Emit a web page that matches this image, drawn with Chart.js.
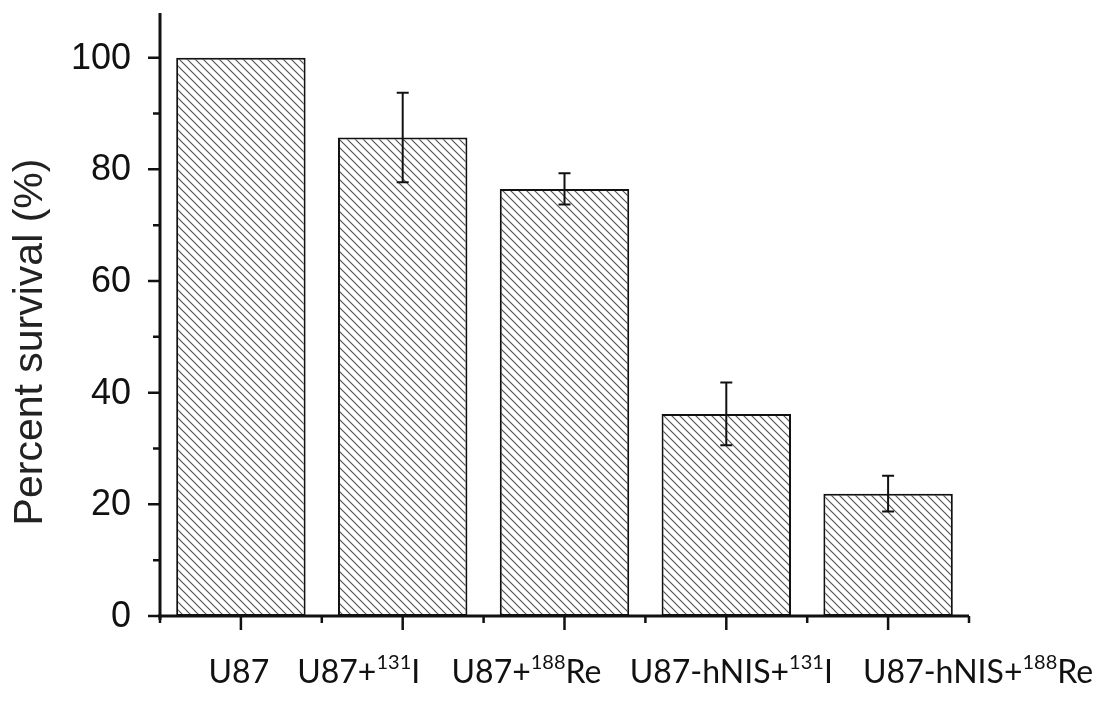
<!DOCTYPE html>
<html>
<head>
<meta charset="utf-8">
<script src="https://cdn.jsdelivr.net/npm/chart.js@4"></script>
<style>
  html, body { margin: 0; padding: 0; background: #fff; }
  canvas { display: block; }
</style>
</head>
<body>
<canvas id="myChart" width="1118" height="714"></canvas>
<script>
// data
const categories = ['U87', 'U87+131I', 'U87+188Re', 'U87-hNIS+131I', 'U87-hNIS+188Re'];
const labelBase = ['U87', 'U87+', 'U87+', 'U87-hNIS+', 'U87-hNIS+'];
const labelSup = ['', '131', '188', '131', '188'];
const labelTail = ['', 'I', 'Re', 'I', 'Re'];
const survival = [100, 85.7, 76.5, 36.2, 21.9];
const errors = [0, 8.0, 2.8, 5.6, 3.2];
const majorTicks = [0, 20, 40, 60, 80, 100];
const minorTicks = [10, 30, 50, 70, 90];
const yTitle = 'Percent survival (%)';

// label nudges (px), the original labels are not centred on their bars
const labelShift = [-2, -44, -38, 5, 90];

function hatch() {
  const c = document.createElement('canvas');
  c.width = 8; c.height = 8;
  const g = c.getContext('2d');
  g.fillStyle = '#fff';
  g.fillRect(0, 0, 8, 8);
  g.strokeStyle = '#555';
  g.lineWidth = 1.2;
  g.beginPath();
  g.moveTo(0, 0); g.lineTo(8, 8);
  g.moveTo(-1, 7); g.lineTo(1, 9);
  g.moveTo(7, -1); g.lineTo(9, 1);
  g.stroke();
  return g.createPattern(c, 'repeat');
}

const axesPlugin = {
  id: 'axesPlugin',
  afterDatasetsDraw(chart) {
    const ctx = chart.ctx;
    const x = chart.scales.x, y = chart.scales.y;
    const area = chart.chartArea;
    ctx.save();
    ctx.strokeStyle = '#111';

    // error bars
    ctx.lineWidth = 2;
    const meta = chart.getDatasetMeta(0);
    survival.forEach((v, i) => {
      if (!errors[i]) return;
      const px = meta.data[i].x;
      const top = y.getPixelForValue(v + errors[i]);
      const bot = y.getPixelForValue(v - errors[i]);
      ctx.beginPath();
      ctx.moveTo(px, top); ctx.lineTo(px, bot);
      ctx.moveTo(px - 6, top); ctx.lineTo(px + 6, top);
      ctx.moveTo(px - 6, bot); ctx.lineTo(px + 6, bot);
      ctx.stroke();
    });

    // axis lines
    ctx.lineWidth = 3;
    ctx.beginPath();
    ctx.moveTo(area.left, area.top);
    ctx.lineTo(area.left, area.bottom + 4);
    ctx.moveTo(area.left - 2, area.bottom);
    ctx.lineTo(area.right, area.bottom);
    ctx.stroke();

    // y ticks
    ctx.lineWidth = 2.5;
    ctx.beginPath();
    majorTicks.forEach(t => {
      const py = y.getPixelForValue(t);
      ctx.moveTo(area.left - 12, py); ctx.lineTo(area.left, py);
    });
    minorTicks.forEach(t => {
      const py = y.getPixelForValue(t);
      ctx.moveTo(area.left - 7, py); ctx.lineTo(area.left, py);
    });
    // x ticks: long at bar centres, short at category edges
    const step = (area.right - area.left) / categories.length;
    categories.forEach((c, i) => {
      const px = x.getPixelForValue(i);
      ctx.moveTo(px, area.bottom); ctx.lineTo(px, area.bottom + 14);
    });
    for (let i = 0; i <= categories.length; i++) {
      const px = area.left + i * step;
      ctx.moveTo(px, area.bottom); ctx.lineTo(px, area.bottom + 7);
    }
    ctx.stroke();

    // y tick labels
    ctx.fillStyle = '#111';
    ctx.font = '36px "Liberation Sans"';
    ctx.textAlign = 'right';
    ctx.textBaseline = 'middle';
    majorTicks.forEach(t => {
      ctx.fillText(String(t), area.left - 29, y.getPixelForValue(t) + 1);
    });

    // y title
    ctx.save();
    ctx.translate(31, 342);
    ctx.rotate(-Math.PI / 2);
    ctx.textAlign = 'center';
    ctx.textBaseline = 'middle';
    ctx.fillStyle = '#222';
    ctx.font = '41px "Liberation Sans"';
    ctx.fillText(yTitle, 0, 0);
    ctx.restore();

    // x labels with superscripts
    const big = '32px Lato';
    const small = '20px Lato';
    ctx.fillStyle = '#111';
    ctx.textBaseline = 'alphabetic';
    ctx.textAlign = 'left';
    categories.forEach((c, i) => {
      ctx.font = big;
      const w1 = ctx.measureText(labelBase[i]).width;
      const w3 = ctx.measureText(labelTail[i]).width;
      ctx.font = small;
      const w2 = ctx.measureText(labelSup[i]).width;
      const total = w1 + w2 + w3;
      let lx = x.getPixelForValue(i) + labelShift[i] - total / 2;
      const base = 683;
      ctx.font = big;
      ctx.fillText(labelBase[i], lx, base);
      lx += w1;
      ctx.font = small;
      ctx.fillText(labelSup[i], lx, base - 14);
      lx += w2;
      ctx.font = big;
      ctx.fillText(labelTail[i], lx, base);
    });
    ctx.restore();
  }
};

const ctx = document.getElementById('myChart');

new Chart(ctx, {
  type: 'bar',
  data: {
    labels: categories,
    datasets: [{
      label: 'Percent survival',
      data: survival,
      backgroundColor: hatch(),
      borderColor: '#111',
      borderWidth: 2,
      borderSkipped: false,
      categoryPercentage: 1,
      barPercentage: 0.8
    }]
  },
  options: {
    responsive: false,
    animation: false,
    layout: {
      padding: { top: 13, right: 149, bottom: 0, left: 0 }
    },
    plugins: {
      legend: { display: false },
      tooltip: { enabled: false }
    },
    scales: {
      x: {
        grid: { display: false },
        border: { display: false },
        ticks: { display: false },
        afterFit(scale) {
          scale.height = 98;
          scale.paddingLeft = 0;
          scale.paddingRight = 0;
        }
      },
      y: {
        min: 0,
        max: 108,
        grid: { display: false },
        border: { display: false },
        ticks: { display: false },
        afterBuildTicks(scale) {
          scale.ticks = majorTicks.map(v => ({ value: v }));
        },
        afterFit(scale) {
          scale.width = 160;
          scale.paddingTop = 0;
          scale.paddingBottom = 0;
        }
      }
    }
  },
  plugins: [axesPlugin]
});
</script>
</body>
</html>
